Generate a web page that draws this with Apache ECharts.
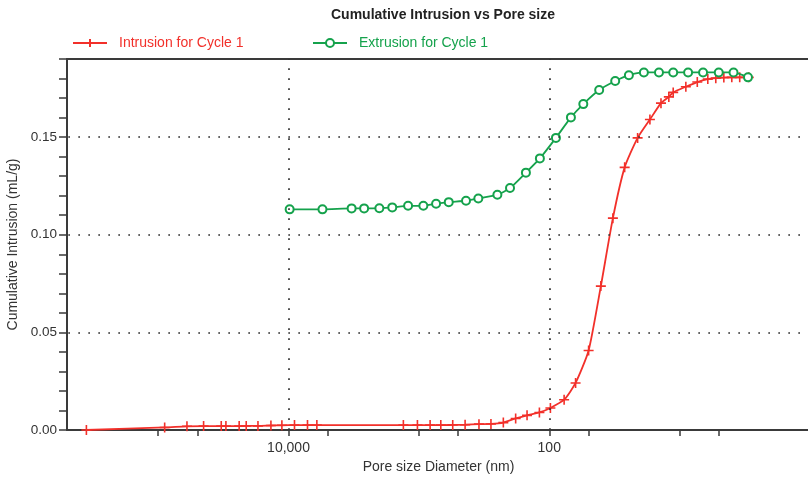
<!DOCTYPE html>
<html>
<head>
<meta charset="utf-8">
<script src="https://cdn.jsdelivr.net/npm/echarts@6/dist/echarts.min.js"></script>
<style>
  html, body { margin: 0; padding: 0; background: #fff; }
  #chart { width: 808px; height: 479px; }
</style>
</head>
<body>
<div id="chart"></div>
<script>
// Pore size diameters (nm) and cumulative intrusion (mL/g)
const intrusionDiameter = [355000, 89100, 60100, 44800, 32800, 30200, 23900, 21100, 17150, 13640,
  11240, 8995, 7150, 6060, 1315, 1026, 820, 679, 550, 442, 346, 280, 225, 181, 148, 119, 98,
  76.9, 62.8, 49.9, 40.2, 32.5, 26.4, 21.0, 16.9, 13.9, 12.1, 11.2, 8.96, 7.32, 6.08, 5.28,
  4.58, 3.98, 3.46, 2.95];
const intrusionVolume = [0.0000, 0.0013, 0.0019, 0.0020, 0.0020, 0.0020, 0.0020, 0.0021, 0.0021, 0.0023,
  0.0024, 0.0025, 0.0025, 0.0025, 0.0025, 0.0025, 0.0025, 0.0025, 0.0026, 0.0027, 0.0030, 0.0031,
  0.0038, 0.0059, 0.0075, 0.0090, 0.0113, 0.0155, 0.0241, 0.0407, 0.0737, 0.1085, 0.1345, 0.1496,
  0.1590, 0.1674, 0.1706, 0.1729, 0.1758, 0.1782, 0.1797, 0.1802, 0.1805, 0.1806, 0.1806, 0.1806];

const extrusionDiameter = [9800, 5490, 3280, 2630, 2010, 1600, 1210, 924, 738, 590, 435, 350, 250,
  200, 151, 118, 88.9, 68.2, 54.8, 41.4, 31.2, 24.5, 18.8, 14.4, 11.2, 8.61, 6.61, 5.01, 3.86, 2.99];
const extrusionVolume = [0.1130, 0.1130, 0.1135, 0.1135, 0.1136, 0.1140, 0.1148, 0.1148, 0.1159, 0.1167,
  0.1174, 0.1186, 0.1205, 0.1239, 0.1318, 0.1391, 0.1496, 0.1601, 0.1669, 0.1741, 0.1787, 0.1817,
  0.1831, 0.1831, 0.1831, 0.1831, 0.1831, 0.1831, 0.1831, 0.1806];

const xLabelValues = [10000, 100];
const xTickValues = [1, 5, 10, 50, 100, 500, 1000, 5000, 10000, 50000, 100000];
const yGridValues = [0.05, 0.10, 0.15];

const RED = '#f2302a';
const GREEN = '#15a24c';
const FONT = "'Liberation Sans', Arial, Helvetica, sans-serif";

const pairs = (xs, ys) => xs.map((x, i) => [x, ys[i]]);

const chart = echarts.init(document.getElementById('chart'), null, { renderer: 'canvas' });

const dotted = { color: '#333', width: 1.7, type: [1.7, 8.3] };

chart.setOption({
  animation: false,
  backgroundColor: '#fff',
  textStyle: { fontFamily: FONT },
  title: {
    text: 'Cumulative Intrusion vs Pore size',
    left: 438,
    top: 3,
    textAlign: 'center',
    textStyle: { fontSize: 14, fontWeight: 'bold', color: '#222', fontFamily: FONT }
  },
  legend: [
    {
      left: 67, top: 31, itemWidth: 34, itemHeight: 10,
      data: [{ name: 'Intrusion for Cycle 1', textStyle: { color: RED } }],
      textStyle: { fontSize: 14, fontFamily: FONT, padding: [0, 0, 0, 7] }
    },
    {
      left: 307, top: 31, itemWidth: 34, itemHeight: 10,
      data: [{ name: 'Extrusion for Cycle 1', textStyle: { color: GREEN } }],
      textStyle: { fontSize: 14, fontFamily: FONT, padding: [0, 0, 0, 7] }
    }
  ],
  grid: { left: 67, right: -2, top: 59, bottom: 49, containLabel: false, outerBoundsMode: 'none' },
  xAxis: [
    {
      type: 'log',
      logBase: 10,
      min: 1,
      max: 500000,
      inverse: true,
      name: 'Pore size Diameter (nm)',
      nameLocation: 'middle',
      nameGap: 30,
      nameTextStyle: { fontSize: 14, color: '#333', fontFamily: FONT },
      axisLine: { show: true, onZero: false, lineStyle: { color: '#3a3a3a', width: 2 } },
      axisTick: { show: true, length: 6, customValues: xTickValues, lineStyle: { color: '#3a3a3a', width: 1.5 } },
      axisLabel: {
        show: true, customValues: xLabelValues, margin: 11, fontSize: 14, color: '#333', fontFamily: FONT,
        formatter: v => Math.round(v).toLocaleString('en-US')
      },
      splitLine: { show: false },
      minorTick: { show: false }
    },
    {
      type: 'value',
      position: 'top',
      min: 0, max: 1,
      axisLine: { show: true, onZero: false, lineStyle: { color: '#3a3a3a', width: 2 } },
      axisTick: { show: false },
      axisLabel: { show: false },
      splitLine: { show: false }
    }
  ],
  yAxis: {
    type: 'value',
    min: 0,
    max: 0.19,
    interval: 0.01,
    name: 'Cumulative Intrusion (mL/g)',
    nameLocation: 'middle',
    nameGap: 46,
    nameRotate: 90,
    nameTextStyle: { fontSize: 14, color: '#333', fontFamily: FONT },
    axisLine: { show: true, lineStyle: { color: '#3a3a3a', width: 2 } },
    axisTick: { show: true, length: 8, lineStyle: { color: '#3a3a3a', width: 1.5 } },
    axisLabel: {
      margin: 10, fontSize: 13.5, color: '#333', fontFamily: FONT,
      formatter: v => (Math.round(v * 100) % 5 === 0 ? v.toFixed(2) : '')
    },
    splitLine: { show: false }
  },
  series: [
    {
      name: 'Intrusion for Cycle 1',
      type: 'line',
      xAxisIndex: 0,
      data: pairs(intrusionDiameter, intrusionVolume),
      smooth: 0.2,
      symbol: 'path://M0,5L10,5M5,0L5,10',
      symbolSize: 10,
      lineStyle: { color: RED, width: 1.8 },
      itemStyle: { color: RED, borderColor: RED, borderWidth: 1.6 },
      z: 3,
      markLine: {
        silent: true,
        symbol: 'none',
        label: { show: false },
        lineStyle: dotted,
        emphasis: { disabled: true },
        data: xLabelValues.map(v => ({ xAxis: v })).concat(yGridValues.map(v => ({ yAxis: v })))
      }
    },
    {
      name: 'Extrusion for Cycle 1',
      type: 'line',
      xAxisIndex: 0,
      data: pairs(extrusionDiameter, extrusionVolume),
      smooth: 0.2,
      symbol: 'emptyCircle',
      symbolSize: 8,
      lineStyle: { color: GREEN, width: 1.8 },
      itemStyle: { color: GREEN, borderColor: GREEN, borderWidth: 2 },
      z: 4
    }
  ]
});
</script>
</body>
</html>
